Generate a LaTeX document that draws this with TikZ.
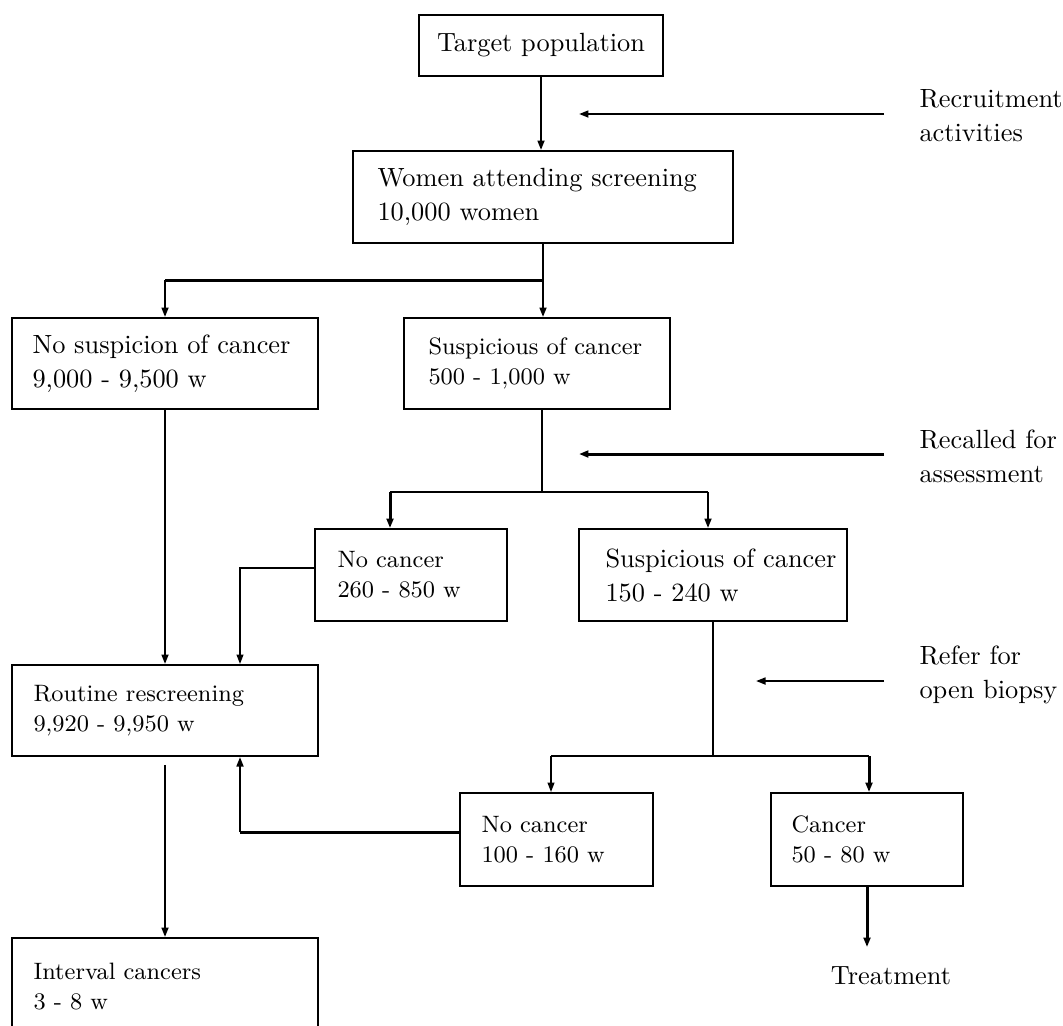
\documentclass[tikz,border=0pt]{standalone}
\usetikzlibrary{arrows.meta}
\tikzset{
  every node/.style={inner sep=0pt},
  bigf/.style={font=\fontsize{10}{12.9}\selectfont},
  smallf/.style={font=\fontsize{9}{11.4}\selectfont},
  boxn/.style 2 args={draw, line width=0.76pt, minimum width=#1*0.3795pt, minimum height=#2*0.3795pt},
  txt/.style={anchor=west, align=left},
  ln/.style={line width=0.76pt},
  thk/.style={line width=1.14pt},
  thn/.style={line width=0.57pt},
  arr/.style={-{Triangle[length=3.6pt,width=2.6pt]}},
}
\begin{document}
\begin{tikzpicture}[x=0.3795pt,y=-0.3795pt]
\useasboundingbox (0,0) rectangle (1063,1025);
\clip (0,0) rectangle (1063,1025);

% boxes
\node[boxn={244}{61},bigf] (tp) at (541,45.5) {Target population};
\node[boxn={380}{92}] (wa) at (543,197) {};
\node[txt,bigf] (wat) at (377,197) {Women attending screening\\10,000 women};
\node[boxn={306}{91}] (ns) at (165,363.5) {};
\node[txt,bigf] (nst) at (32,363.5) {No suspicion of cancer\\9,000 - 9,500 w};
\node[boxn={266}{91}] (s1) at (537,363.5) {};
\node[txt,smallf] (s1t) at (428,363.5) {Suspicious of cancer\\500 - 1,000 w};
\node[boxn={192}{92}] (nc1) at (411,575) {};
\node[txt,smallf] (nc1t) at (337,575) {No cancer\\260 - 850 w};
\node[boxn={268}{92}] (s2) at (713,575) {};
\node[txt,bigf] (s2t) at (605,575) {Suspicious of cancer\\150 - 240 w};
\node[boxn={306}{91}] (rr) at (165,710.5) {};
\node[txt,smallf] (rrt) at (33,710.5) {Routine rescreening\\9,920 - 9,950 w};
\node[boxn={193}{93}] (nc2) at (556.5,839.5) {};
\node[txt,smallf] (nc2t) at (481,839.5) {No cancer\\100 - 160 w};
\node[boxn={192}{93}] (ca) at (867,839.5) {};
\node[txt,smallf] (cat) at (791,839.5) {Cancer\\50 - 80 w};
\node[boxn={306}{92}] (ic) at (165,984) {};
\node[txt,smallf] (ict) at (33,986.5) {Interval cancers\\3 - 8 w};

% side labels
\node[txt,bigf] (rec) at (919,116) {Recruitment\\activities};
\node[txt,bigf] (rca) at (919,456) {Recalled for\\assessment};
\node[txt,bigf] (ref) at (919,674.5) {Refer for\\open biopsy};
\node[bigf] (tr) at (891,976) {Treatment};

% helper coordinates
\coordinate (recs) at (884,114); \coordinate (rece) at (579,114);
\coordinate (rcas) at (884,454); \coordinate (rcae) at (579,454);
\coordinate (refs) at (884,681); \coordinate (refe) at (756,681);
\coordinate (j1) at (543,280);
\coordinate (j2) at (542,492);
\coordinate (j2l) at (390,492); \coordinate (j2r) at (708,492);
\coordinate (xa) at (240,568);
\coordinate (j3) at (713,756);
\coordinate (j3l) at (551,756); \coordinate (j3r) at (869,756);
\coordinate (hb) at (240,832);
\coordinate (trtop) at (867,947);

% connectors
\draw[ln,arr] (tp.south) -- (tp.south |- wa.north);
\draw[ln,arr] (recs) -- (rece);
\draw[ln] (wa.south) -- (j1);
\draw[thk] (j1) -- (ns.north |- j1);
\draw[ln,arr] (ns.north |- j1) -- (ns.north);
\draw[ln,arr] (j1) -- (j1 |- s1.north);

\draw[ln] (j2 |- s1.south) -- (j2);
\draw[thk,arr] (rcas) -- (rcae);
\draw[thn] (j2l) -- (j2r);
\draw[thk,arr] (j2l) -- (j2l |- nc1.north);
\draw[ln,arr] (j2r) -- (j2r |- s2.north);

\draw[thn,arr] (nc1.west |- xa) -- (xa) -- (xa |- rr.north);
\draw[ln,arr] (ns.south) -- (ns.south |- rr.north);

\draw[thn] (s2.south) -- (j3);
\draw[ln,arr] (refs) -- (refe);
\draw[ln] (j3l) -- (j3r);
\draw[thn,arr] (j3l) -- (j3l |- nc2.north);
\draw[thk,arr] (j3r) -- (j3r |- ca.north);

\draw[ln,arr] ([yshift=-3pt]rr.south) -- (rr.south |- ic.north);
\draw[thk] (nc2.west |- hb) -- (hb);
\draw[ln,arr] (hb) -- (hb |- rr.south);
\draw[thk,arr] (ca.south) -- (trtop);
\end{tikzpicture}
\end{document}
